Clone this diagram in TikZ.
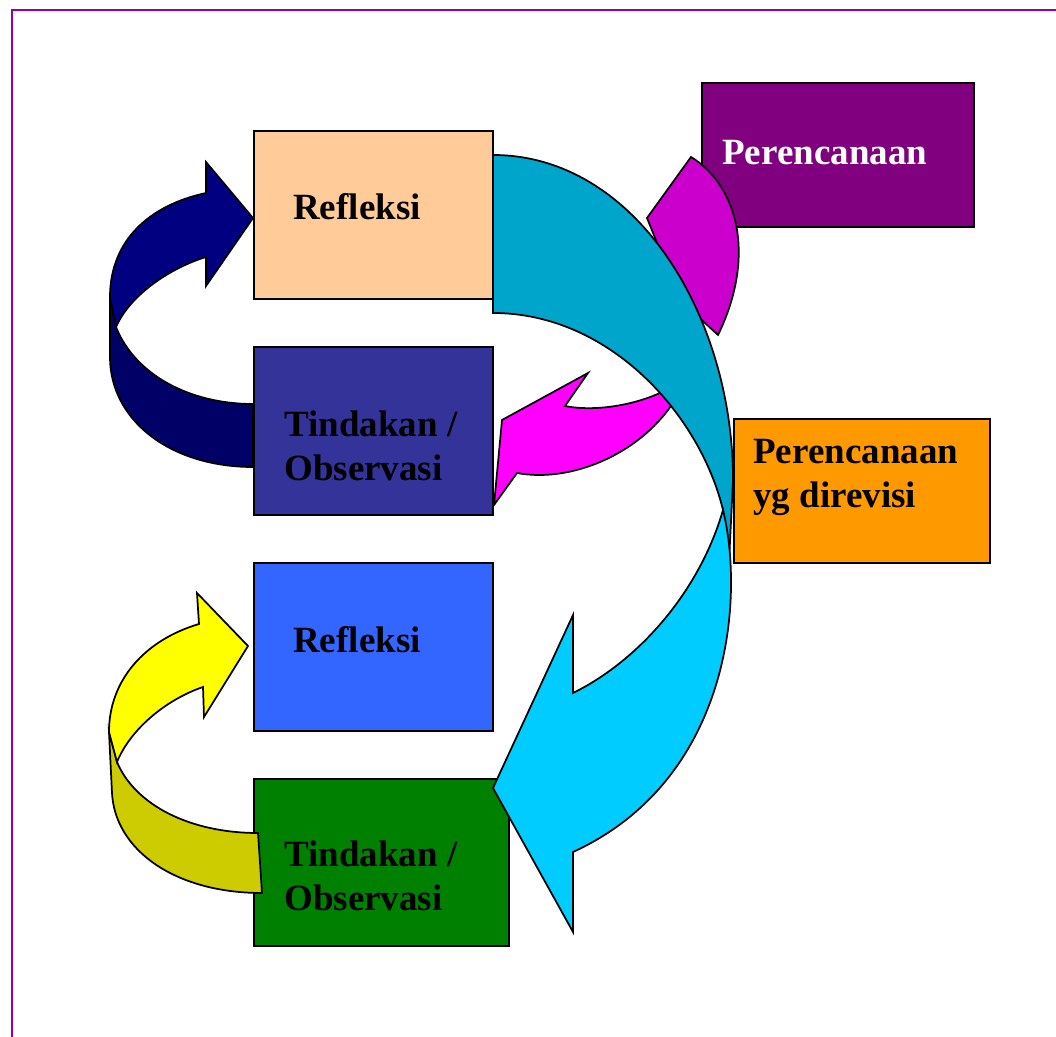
\documentclass[tikz,border=0pt]{standalone}
\usepackage{fontspec}
\setmainfont{Liberation Serif}
\definecolor{peach}{RGB}{255,204,153}
\definecolor{slateblue}{RGB}{51,51,153}
\definecolor{brightblue}{RGB}{51,102,255}
\definecolor{leafgreen}{RGB}{0,128,0}
\definecolor{plum}{RGB}{128,0,128}
\definecolor{amber}{RGB}{255,153,0}
\definecolor{seablue}{RGB}{0,165,204}
\definecolor{skyblue}{RGB}{0,204,255}
\definecolor{pink}{RGB}{255,0,255}
\definecolor{darkpink}{RGB}{204,0,204}
\definecolor{navyfront}{RGB}{0,0,128}
\definecolor{navyback}{RGB}{0,0,102}
\definecolor{lemon}{RGB}{255,255,0}
\definecolor{olive}{RGB}{204,204,0}
\definecolor{framepurple}{RGB}{153,0,153}

\begin{document}
\begin{tikzpicture}[
    x=0.75pt, y=-0.75pt,
    outline/.style={draw=black, line width=1.3pt},
    frame/.style={draw=framepurple, line width=1.6pt},
    boxtext/.style={anchor=base west, inner sep=0pt, align=left,
        font=\bfseries\fontsize{27.75}{33}\selectfont}
    ]

\useasboundingbox (0,0) rectangle (1056,1037);
\draw[frame] (12,1037) -- (12,10) -- (1056,10);

% boxes
\draw[outline, fill=peach] (254,131) rectangle (493,299);
\draw[outline, fill=slateblue] (254,347) rectangle (493,515);
\draw[outline, fill=brightblue] (254,563) rectangle (493,731);
\draw[outline, fill=leafgreen] (254,779) rectangle (509,946);
\draw[outline, fill=plum] (702,83) rectangle (974,227);

% magenta arrow, back then front
\draw[outline, fill=darkpink] (647,218) -- (691,157) .. controls (737,185) and (757,255) .. (718,335) -- (680,300) -- cycle;
\draw[outline, fill=pink] (690,388) -- (662,392) .. controls (635,405) and (595,412) .. (565,406)
    -- (588,373) -- (502,420) -- (494,505) -- (517,473)
    .. controls (570,483) and (640,455) .. (675,400) -- cycle;

% big arrow, back then front
\draw[outline, fill=seablue] (493,155) .. controls (635,155) and (733,315) .. (733,480) -- (729,562)
    -- (723,510) .. controls (700,415) and (610,313) .. (493,313) -- cycle;
\draw[outline, fill=skyblue] (723,510) .. controls (700,590) and (640,660) .. (573,693)
    -- (573,615) -- (493,788) -- (573,932) -- (573,852)
    .. controls (730,780) and (745,600) .. (723,510) -- cycle;

\draw[outline, fill=amber] (734,419) rectangle (990,563);

% navy arrow
\draw[outline, fill=navyback] (110,297) -- (110,357) .. controls (110,420) and (170,467) .. (253,467)
    -- (253,404) .. controls (190,404) and (135,375) .. (116,327) -- cycle;
\draw[outline, fill=navyfront] (110,297) .. controls (110,240) and (150,205) .. (206,193)
    -- (206,162) -- (253,218) -- (206,286) -- (206,257)
    .. controls (170,268) and (130,295) .. (116,327) -- cycle;

% yellow arrow
\draw[outline, fill=olive] (109,732) -- (112,793) .. controls (115,850) and (175,893) .. (262,893)
    -- (258,833) .. controls (190,833) and (135,805) .. (117,762) -- cycle;
\draw[outline, fill=lemon] (109,732) .. controls (109,680) and (145,640) .. (199,624)
    -- (197,593) -- (248,646) -- (204,717) -- (203,687)
    .. controls (165,700) and (130,730) .. (117,762) -- cycle;

% texts (base = last line)
\node[boxtext] (refleksiA) at (293,220) {Refleksi};
\node[boxtext] (tindakanA) at (284,480) {Tindakan /\\Observasi};
\node[boxtext] (refleksiB) at (293,652) {Refleksi};
\node[boxtext] (tindakanB) at (284,910) {Tindakan /\\Observasi};
\node[boxtext, text=white] (rencana) at (722,165) {Perencanaan};
\node[boxtext] (revisi) at (753,507) {Perencanaan\\yg direvisi};

\end{tikzpicture}
\end{document}
